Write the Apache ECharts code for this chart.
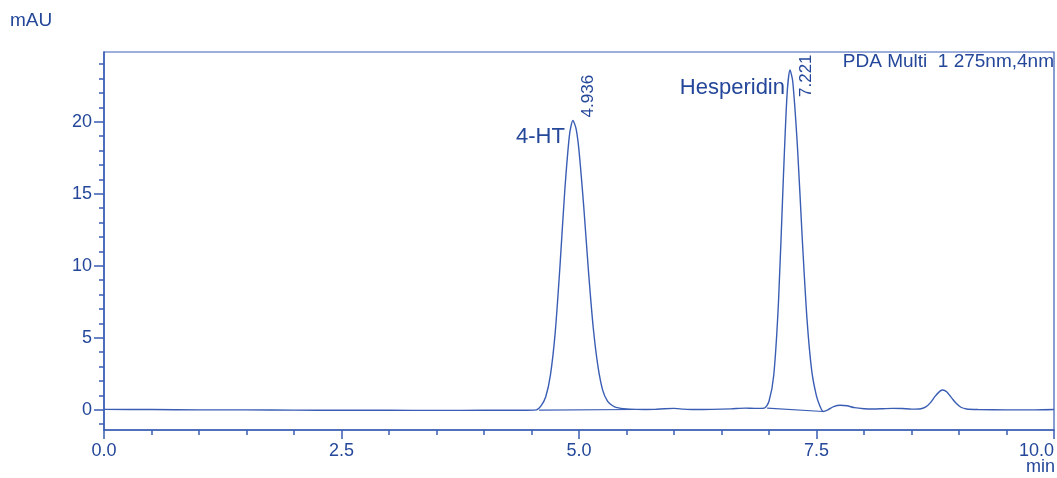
<!DOCTYPE html>
<html>
<head>
<meta charset="utf-8">
<script src="https://cdn.jsdelivr.net/npm/echarts@6/dist/echarts.min.js"></script>
<style>
  html, body { margin: 0; padding: 0; background: #ffffff; }
  #chart { width: 1057px; height: 478px; }
</style>
</head>
<body>
<div id="chart"></div>
<script>
// ---- Data ----
const times = [
  0.0, 0.5, 1.0, 1.5, 2.0, 2.5, 3.0, 3.5, 4.0, 4.4, 4.55,
  4.60, 4.65, 4.70, 4.75, 4.80, 4.85, 4.90, 4.936, 4.97, 5.00, 5.05, 5.10, 5.15, 5.20, 5.25, 5.30, 5.35, 5.40, 5.50, 5.60,
  5.70, 5.80, 5.90, 6.00, 6.10, 6.20, 6.40, 6.60, 6.75, 6.85, 6.95,
  7.00, 7.05, 7.10, 7.15, 7.19, 7.221, 7.25, 7.30, 7.35, 7.40, 7.45, 7.50, 7.54, 7.57,
  7.62, 7.68, 7.75, 7.82, 7.90, 8.00, 8.10, 8.20, 8.30, 8.40, 8.50, 8.60,
  8.65, 8.70, 8.75, 8.80, 8.83, 8.87, 8.92, 8.97, 9.02, 9.08, 9.20, 9.50, 9.80, 10.0
];
const signal = [
  0.03, 0.02, 0.0, 0.0, -0.02, -0.03, -0.03, -0.04, -0.03, -0.03, 0.0,
  0.28, 0.91, 2.45, 5.4, 10.0, 15.2, 19.1, 20.1, 19.5, 18.0, 14.1, 9.6, 5.7, 3.0, 1.35, 0.6, 0.3, 0.15, 0.06, 0.03,
  0.02, 0.03, 0.08, 0.1, 0.05, 0.02, 0.03, 0.07, 0.12, 0.1, 0.12,
  0.6, 2.4, 7.5, 15.9, 21.9, 23.6, 22.8, 18.2, 11.9, 6.3, 2.7, 0.95, 0.2, -0.12,
  0.0, 0.22, 0.32, 0.28, 0.15, 0.08, 0.06, 0.08, 0.1, 0.09, 0.05, 0.08,
  0.2, 0.5, 0.95, 1.3, 1.38, 1.25, 0.85, 0.45, 0.18, 0.06, 0.02, 0.0, 0.0, 0.02
];
// integration baselines drawn beneath the two main peaks
const baselineHT = [[4.58, -0.02], [5.60, 0.02]];
const baselineHesp = [[6.98, 0.12], [7.57, -0.12]];

const peakNames = ['4-HT', 'Hesperidin'];
const peakTimes = [4.936, 7.221];
const peakHeights = [20.1, 23.6];

const yMajorTicks = [0, 5, 10, 15, 20];
const yMinorTicks = [-1, 1, 2, 3, 4, 6, 7, 8, 9, 11, 12, 13, 14, 16, 17, 18, 19, 21, 22, 23, 24];

const TEXT = '#24479a';
const AXIS = '#3a5eb4';
const TRACE = '#3a5db4';
const FONT = 'Liberation Sans';

const traceData = times.map((t, i) => [t, signal[i]]);

// label offsets: names left of apex; rotated retention times (offset in rotated frame)
const nameOffsets = [[-8, 17], [-5, 18]];
const rtOffsets = [[3, 15], [-27, 16]];

const chart = echarts.init(document.getElementById('chart'), null, { renderer: 'canvas' });
chart.setOption({
  animation: false,
  backgroundColor: '#ffffff',
  textStyle: { fontFamily: FONT },
  grid: {
    left: 104, right: 3, top: 52, bottom: 48,
    show: true, borderColor: AXIS, borderWidth: 1.2, backgroundColor: 'transparent'
  },
  xAxis: {
    type: 'value', min: 0, max: 10, interval: 2.5,
    axisLine: { show: true, onZero: false, lineStyle: { color: AXIS, width: 1.5 } },
    axisTick: { show: true, length: 9, lineStyle: { color: AXIS, width: 1.5 } },
    minorTick: { show: true, splitNumber: 5, length: 5, lineStyle: { color: AXIS, width: 1.5 } },
    splitLine: { show: false },
    axisLabel: {
      color: TEXT, fontSize: 18, fontFamily: FONT, margin: 12,
      formatter: v => v.toFixed(1), alignMaxLabel: 'right'
    }
  },
  yAxis: [
    {
      type: 'value', min: -1.4, max: 24.85, position: 'left',
      axisLine: { show: true, onZero: false, lineStyle: { color: AXIS, width: 1.5 } },
      axisTick: { show: true, length: 10, customValues: yMajorTicks, lineStyle: { color: AXIS, width: 1.5 } },
      splitLine: { show: false },
      axisLabel: { color: TEXT, fontSize: 18, fontFamily: FONT, margin: 12, customValues: yMajorTicks }
    },
    {
      type: 'value', min: -1.4, max: 24.85, position: 'left',
      axisLine: { show: false, onZero: false },
      axisTick: { show: true, length: 5, customValues: yMinorTicks, lineStyle: { color: AXIS, width: 1.5 } },
      splitLine: { show: false },
      axisLabel: { show: false }
    }
  ],
  series: [
    {
      type: 'line', data: traceData, showSymbol: false, smooth: 0.25,
      lineStyle: { color: TRACE, width: 1.4 }, z: 3
    },
    {
      type: 'line', data: baselineHT, showSymbol: false,
      lineStyle: { color: TRACE, width: 1.1 }, z: 2
    },
    {
      type: 'line', data: baselineHesp, showSymbol: false,
      lineStyle: { color: TRACE, width: 1.1 }, z: 2
    },
    {
      type: 'scatter', symbolSize: 0, silent: true,
      data: peakTimes.map((t, i) => ({
        value: [t, peakHeights[i]], name: peakNames[i],
        label: { offset: nameOffsets[i] }
      })),
      label: {
        show: true, formatter: p => p.name, color: TEXT, fontSize: 22, fontFamily: FONT,
        position: 'inside', align: 'right', verticalAlign: 'middle',
        textBorderWidth: 0, textBorderColor: 'transparent', opacity: 1
      },
      z: 4
    },
    {
      type: 'scatter', symbolSize: 0, silent: true,
      data: peakTimes.map((t, i) => ({
        value: [t, peakHeights[i]], name: t.toFixed(3),
        label: { offset: rtOffsets[i] }
      })),
      label: {
        show: true, formatter: p => p.name, color: TEXT, fontSize: 17, fontFamily: FONT,
        rotate: 90, position: 'inside', align: 'left', verticalAlign: 'middle',
        textBorderWidth: 0, textBorderColor: 'transparent', opacity: 1
      },
      z: 4
    }
  ],
  graphic: [
    { type: 'text', left: 10, top: 11, style: { text: 'mAU', fill: TEXT, font: '19px "Liberation Sans"' } },
    { type: 'text', right: 2, top: 458, style: { text: 'min', fill: TEXT, font: '18px "Liberation Sans"' } },
    { type: 'text', right: 3, top: 52, style: { text: 'PDA Multi  1 275nm,4nm', fill: TEXT, font: '19px "Liberation Sans"' } }
  ]
});
</script>
</body>
</html>
